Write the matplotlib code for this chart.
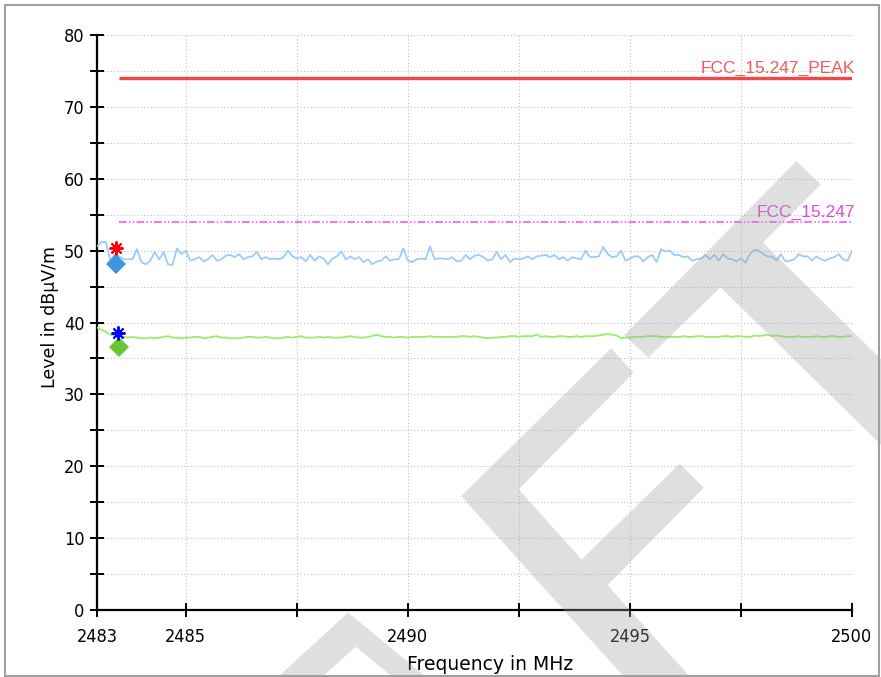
import numpy as np
import matplotlib
matplotlib.use("Agg")
import matplotlib.pyplot as plt
from matplotlib.patches import Polygon, Rectangle
from matplotlib import font_manager

# sweep
freq_start = 2483.0
freq_stop = 2500.0

# peak trace (dBuV/m), one value per 0.1 MHz
peak_trace = [
    50.6, 51.2, 51.2, 48.6, 49.5, 49.2, 48.8, 48.8, 48.8, 50.2,
    48.4, 48.1, 48.6, 49.8, 48.8, 49.8, 48.1, 48.0, 50.3, 49.5,
    50.0, 48.6, 48.8, 49.1, 48.5, 48.8, 49.4, 48.6, 48.8, 49.3,
    49.4, 49.1, 49.5, 48.8, 49.1, 49.2, 49.8, 48.8, 49.1, 48.8,
    48.9, 48.8, 49.1, 50.0, 49.2, 48.9, 49.1, 48.5, 49.4, 48.6,
    49.2, 48.9, 48.1, 48.9, 49.2, 49.9, 48.8, 49.2, 48.8, 49.1,
    48.4, 48.8, 48.1, 48.5, 48.6, 49.2, 48.6, 48.8, 48.8, 50.3,
    48.6, 48.4, 48.8, 48.9, 48.8, 50.6, 48.8, 48.9, 48.9, 48.8,
    49.1, 48.5, 48.6, 49.4, 48.8, 49.3, 49.4, 49.1, 48.6, 48.8,
    49.8, 48.8, 49.4, 48.4, 48.9, 48.8, 48.9, 49.2, 48.8, 49.2,
    49.3, 49.4, 49.1, 49.4, 48.8, 49.1, 48.6, 49.1, 48.9, 48.8,
    50.0, 49.1, 49.1, 49.2, 50.5, 49.5, 49.1, 49.2, 50.0, 48.6,
    48.9, 49.2, 49.2, 48.5, 49.1, 49.4, 48.4, 50.2, 49.9, 50.0,
    49.4, 49.4, 49.1, 49.2, 48.6, 48.8, 48.9, 49.4, 48.8, 49.4,
    48.6, 49.5, 48.9, 48.8, 48.5, 48.9, 48.3, 49.5, 50.1, 50.0,
    49.5, 49.2, 49.2, 48.6, 49.5, 48.5, 48.6, 48.8, 49.5, 49.2,
    49.2, 48.6, 49.2, 48.8, 48.6, 48.9, 49.1, 49.5, 48.8, 48.6,
    50.0,
]

# average trace (dBuV/m)
avg_trace = [
    39.3, 39.0, 38.7, 38.3, 38.2, 38.1, 38.0, 37.9, 38.0, 37.9,
    37.8, 37.8, 37.9, 37.8, 37.9, 38.0, 38.1, 37.9, 37.9, 37.8,
    37.9, 37.9, 38.0, 38.0, 37.8, 37.9, 38.0, 38.1, 37.9, 37.9,
    37.8, 37.8, 37.8, 37.9, 38.0, 38.0, 37.9, 37.9, 38.0, 37.9,
    37.8, 37.8, 37.9, 38.0, 37.9, 38.0, 38.1, 37.9, 37.9, 37.9,
    38.0, 37.9, 38.0, 37.9, 37.9, 37.9, 38.0, 38.1, 38.0, 37.9,
    37.9, 38.0, 38.1, 38.3, 38.1, 38.0, 38.0, 37.9, 38.0, 38.0,
    37.9, 38.0, 38.0, 38.0, 38.0, 38.1, 38.0, 38.0, 38.0, 38.0,
    38.0, 38.0, 38.1, 38.1, 38.0, 38.1, 38.0, 37.9, 37.8, 37.9,
    37.9, 38.0, 38.0, 38.1, 38.1, 38.0, 38.1, 38.1, 38.1, 38.3,
    38.0, 38.1, 38.0, 38.0, 38.1, 38.1, 38.0, 38.0, 38.1, 38.0,
    38.1, 38.1, 38.1, 38.2, 38.3, 38.4, 38.3, 38.2, 37.8, 37.9,
    37.9, 38.0, 38.0, 38.0, 38.1, 38.1, 38.1, 38.0, 38.0, 38.0,
    38.0, 38.0, 38.1, 38.0, 38.0, 38.1, 38.1, 38.0, 38.0, 38.0,
    38.0, 38.1, 38.1, 38.0, 38.1, 38.1, 38.0, 38.0, 38.2, 38.1,
    38.2, 38.3, 38.1, 38.2, 38.1, 38.0, 38.0, 38.0, 38.1, 38.0,
    38.0, 38.0, 38.1, 38.0, 38.0, 38.1, 38.1, 38.0, 38.0, 38.1,
    38.1,
]

# limit lines
limit_start = 2483.5
peak_limit = 74.0
avg_limit = 54.0
peak_limit_name = "FCC_15.247_PEAK"
avg_limit_name = "FCC_15.247"

# final measurement markers (freq, level)
peak_star = (2483.42, 50.4)
peak_final = (2483.42, 48.2)
avg_star = (2483.48, 38.6)
avg_final = (2483.5, 36.6)

xticks = [2483, 2485, 2487.5, 2490, 2492.5, 2495, 2497.5, 2500]
xticklabels = ["2483", "2485", "", "2490", "", "2495", "", "2500"]
yticks = [0, 10, 20, 30, 40, 50, 60, 70, 80]

W, H = 881, 677
fig = plt.figure(figsize=(W / 100, H / 100), dpi=100)
ax = fig.add_axes([97 / W, 1 - 610 / H, 755 / W, 575 / H])
ax.patch.set_alpha(0)

freqs = np.linspace(freq_start, freq_stop, len(peak_trace))

ax.plot([limit_start, freq_stop], [peak_limit, peak_limit], color="#f04848", lw=2.4,
        solid_capstyle="butt", zorder=3)
ax.plot([limit_start, freq_stop], [avg_limit, avg_limit], color="#ff40ff", lw=1.1,
        dashes=(5, 1.5, 1, 1.5, 1, 1.5), zorder=3)
ax.text(freq_stop + 0.06, peak_limit + 0.25, peak_limit_name, ha="right", va="bottom",
        color="#f05a5a", fontsize=12.5, family=["Liberation Sans", "DejaVu Sans"])
ax.text(freq_stop + 0.06, avg_limit + 0.25, avg_limit_name, ha="right", va="bottom",
        color="#e048e0", fontsize=12.5, family=["Liberation Sans", "DejaVu Sans"])

ax.plot(freqs, peak_trace, color="#99ccff", lw=1.3, zorder=4)
ax.plot(freqs, avg_trace, color="#99ee66", lw=1.3, zorder=4)

ax.plot(*peak_final, marker="D", color="#3d97de", ms=10, mew=0, zorder=5)
ax.plot(*peak_star, marker=(8, 2, 0), color="#ff0000", ms=10, mew=1.4, zorder=6)
ax.plot(*avg_final, marker="D", color="#66c833", ms=10, mew=0, zorder=5)
ax.plot(*avg_star, marker=(8, 2, 0), color="#0000ff", ms=10, mew=1.4, zorder=6)

ax.set_xlim(freq_start, freq_stop)
ax.set_ylim(0, 80)
ax.set_xticks(xticks)
ax.set_xticklabels(xticklabels)
ax.set_yticks(yticks)
ax.set_yticks(np.arange(5, 80, 10), minor=True)
ax.grid(True, which="both", color="#c0c0c0", linestyle=(0, (1, 2)), lw=0.8)
ax.set_axisbelow(True)

for s in ["top", "right"]:
    ax.spines[s].set_visible(False)
for s in ["left", "bottom"]:
    ax.spines[s].set_linewidth(1.6)
    ax.spines[s].set_color("black")

ax.tick_params(axis="both", which="both", direction="inout", length=10, width=1.4,
               colors="black")
ax.tick_params(axis="x", pad=8)
ax.tick_params(axis="y", pad=4)

# narrow digits like the instrument software
names = {f.name for f in font_manager.fontManager.ttflist}
if "Liberation Sans Narrow" in names:
    tick_kw = dict(family="Liberation Sans Narrow", size=13.5)
else:
    tick_kw = dict(family="DejaVu Sans", stretch="condensed", size=13)
for lab in ax.get_xticklabels() + ax.get_yticklabels():
    lab.set_family(tick_kw["family"])
    lab.set_fontsize(tick_kw["size"])
    if "stretch" in tick_kw:
        lab.set_fontstretch(tick_kw["stretch"])

fig.text(490 / W, 1 - 665 / H, "Frequency in MHz", ha="center", va="center",
         fontsize=13.5, family=["DejaVu Sans"])
fig.text(50 / W, 1 - 317 / H, "Level in dBμV/m", ha="center", va="center",
         rotation=90, fontsize=12.5, family=["DejaVu Sans"])

# frame around the picture
fig.patches.append(Rectangle((5 / W, 1 - 676 / H), 874 / W, 671 / H, transform=fig.transFigure,
                             fill=False, edgecolor="#a0a0a0", lw=1.5, zorder=10))

# watermark strokes (figure pixel coords)
wm = [
    [(796.5, 161.2), (820.6, 184.5), (763.1, 242.7), (881, 359.2), (881, 444.8),
     (720.5, 287.3), (648.3, 357.5), (624.2, 335.2)],
    [(611.2, 348.2), (633.5, 372.9), (518.6, 489.3), (581.6, 559.5), (679.8, 463.6),
     (703.9, 487.6), (607.5, 585.2), (690.1, 677), (624.2, 677), (461.2, 496.2)],
    [(348.2, 612.6), (426, 677), (392.6, 677), (355.6, 646.8), (322.2, 677), (277.8, 677)],
]
for pts in wm:
    p = Polygon([(x / W, 1 - y / H) for x, y in pts], closed=True, transform=fig.transFigure,
                facecolor="#a0a0a0", edgecolor="none", alpha=0.33, zorder=20)
    fig.patches.append(p)

fig.savefig("out.png", dpi=100)
